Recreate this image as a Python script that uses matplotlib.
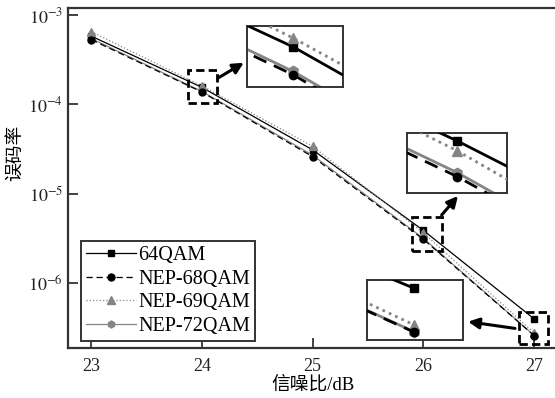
import numpy as np
import matplotlib
matplotlib.use('Agg')
import matplotlib.pyplot as plt
from matplotlib.patches import Rectangle

plt.rcParams['font.family'] = ['Liberation Serif', 'Noto Sans CJK SC']
plt.rcParams['mathtext.fontset'] = 'stix'

# data
snr = [23, 24, 25, 26, 27]
ber_64qam = [5.8e-4, 1.55e-4, 3.1e-5, 3.9e-6, 4.0e-7]
ber_nep68 = [5.3e-4, 1.375e-4, 2.6e-5, 3.1e-6, 2.6e-7]
ber_nep69 = [6.5e-4, 1.61e-4, 3.4e-5, 3.66e-6, 2.79e-7]
ber_nep72 = [5.45e-4, 1.395e-4, 2.7e-5, 3.18e-6, 2.61e-7]
labels = ['64QAM', 'NEP-68QAM', 'NEP-69QAM', 'NEP-72QAM']

gray = '#858585'
styles = [
    dict(color='k', ls='-', marker='s'),
    dict(color='k', ls=(0, (5, 3)), marker='o'),
    dict(color=gray, ls=':', marker='^'),
    dict(color=gray, ls='-', marker='h'),
]
zorders = [3, 5, 4, 2]
msize_main = [4.5, 5, 6, 5]
msize_inset = [5.5, 6, 6.5, 7.5]
series = [ber_64qam, ber_nep68, ber_nep69, ber_nep72]

W, H = 555, 398
fig = plt.figure(figsize=(W / 100, H / 100), dpi=100)
ax = fig.add_axes([68 / W, (H - 348) / H, (557 - 68) / W, 340 / H])

for y, st, ms, lab, z in zip(series, styles, msize_main, labels, zorders):
    ax.plot(snr, y, lw=0.9, ms=ms, label=lab, zorder=z, **st)

ax.set_yscale('log')
ax.set_xlim(22.79, 27.207)
ax.set_ylim(10 ** -6.724, 10 ** -2.922)
ax.set_xticks(snr)
ax.set_yticks([1e-6, 1e-5, 1e-4, 1e-3])
ax.set_yticklabels([r'$10^{-6}$', r'$10^{-5}$', r'$10^{-4}$', r'$10^{-3}$'])
ax.minorticks_off()
ax.tick_params(direction='in', length=7, width=1.2, labelsize=13, colors='#222222')
ax.tick_params(axis='x', pad=7)
for s in ax.spines.values():
    s.set_linewidth(1.6)
    s.set_color('#333333')

ax.set_xlabel('信噪比/dB', fontsize=13.5, labelpad=1)
ax.set_ylabel('误码率', fontsize=13.5)
ax.yaxis.set_label_coords(-0.088, 0.574)

handles, labs = ax.get_legend_handles_labels()
leg = ax.legend(handles, labs, loc='lower left', bbox_to_anchor=(0.026, 0.0215), borderaxespad=0,
                fontsize=14.5, handlelength=2.5, handletextpad=0.1, labelspacing=0.22,
                borderpad=0.25, fancybox=False, framealpha=1)
leg.get_frame().set_edgecolor('#333333')
leg.get_frame().set_linewidth(1.4)
leg.set_zorder(10)

# zoom boxes (x range, log10 y range)
boxes = [
    (23.874, 24.136, -3.981, -3.615),
    (25.895, 26.165, -5.637, -5.26),
    (26.867, 27.123, -6.68, -6.319),
]
for x0, x1, l0, l1 in boxes:
    ax.add_patch(Rectangle((x0, 10 ** l0), x1 - x0, 10 ** l1 - 10 ** l0, fill=False,
                           ec='k', lw=2, ls=(0, (3, 1.5)), zorder=6))

# insets: pixel boxes and data limits
inset_px = [
    (246.7, 26, 343.3, 87.3),
    (407.3, 133.3, 506.7, 193.3),
    (366.7, 280, 463.3, 340),
]
inset_lims = [
    ((23.930, 24.0757), (-3.8851, -3.7708)),
    ((25.928, 26.071), (-5.5551, -5.3875)),
    ((26.915, 27.088), (-6.6186, -6.3626)),
]
insets = []
for (l, t, r, b), (xl, yl) in zip(inset_px, inset_lims):
    ia = fig.add_axes([l / W, (H - b) / H, (r - l) / W, (b - t) / H])
    for y, st, ms, z in zip(series, styles, msize_inset, zorders):
        kw = dict(st)
        if kw['ls'] == ':':
            kw['ls'] = (0, (1, 1.5))
        ia.plot(snr, y, lw=2, ms=ms, zorder=z, **kw)
    ia.set_yscale('log')
    ia.set_xlim(*xl)
    ia.set_ylim(10 ** yl[0], 10 ** yl[1])
    ia.set_xticks([])
    ia.set_yticks([])
    ia.minorticks_off()
    for s in ia.spines.values():
        s.set_linewidth(1.4)
        s.set_color('#333333')
    insets.append(ia)

# arrows from zoom boxes to insets
arrows = [
    ((24.145, 10 ** -3.705), (-0.03, 0.40)),
    ((26.165, 10 ** -5.237), (0.51, -0.045)),
    ((26.828, 10 ** -6.505), (1.05, 0.305)),
]
for (start, tip), ia in zip(arrows, insets):
    ax.annotate('', xy=tip, xycoords=ia.transAxes, xytext=start, textcoords='data',
                arrowprops=dict(arrowstyle='-|>', lw=2.2, color='k', mutation_scale=16,
                                shrinkA=0, shrinkB=0), zorder=7)

fig.savefig('out.png', dpi=100)
